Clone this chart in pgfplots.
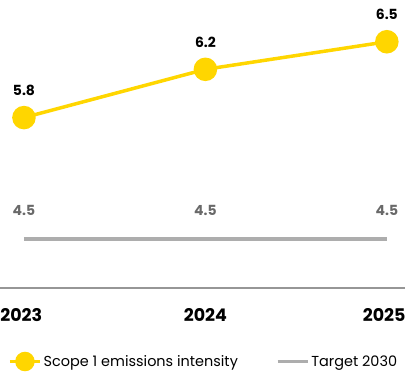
\documentclass[border=0pt]{standalone}
\usepackage{pgfplots}
\pgfplotsset{compat=1.18}
\usepackage{fontspec}
\setmainfont{Poppins}
\definecolor{shellyellow}{RGB}{255,214,0}
\definecolor{tgrey}{RGB}{173,173,173}
\definecolor{axgrey}{RGB}{150,150,150}
\definecolor{lblgrey}{RGB}{105,105,105}
\begin{document}
\begin{tikzpicture}
\begin{axis}[
  at={(0,0)}, anchor=south west,
  scale only axis, width=405bp, height=285.65bp,
  xmin=2022.868, xmax=2025.1, ymin=4, ymax=6.9,
  clip=false,
  axis x line*=bottom, axis y line=none,
  axis line style={draw=axgrey, line width=1.5bp, -},
  xtick={2022.985,2024,2024.985}, xticklabels={2023,2024,2025},
  major tick length=0pt,
  xticklabel style={font=\fontsize{17.5}{17.5}\selectfont\bfseries, yshift=-20bp, inner sep=0pt, anchor=north},
  ytick=\empty,
  /pgf/number format/assume math mode=true,
  legend style={at={(axis description cs:0,0)}, anchor=west, xshift=8bp, yshift=-73.5bp, draw=none, fill=none,
    font=\fontsize{14.5}{14.5}\selectfont, column sep=0pt, inner sep=0pt,
    /tikz/every even column/.append style={column sep=36bp}},
  legend columns=2,
  legend cell align=left,
]
\addplot[shellyellow, line width=3.5bp, mark=*, mark size=10bp,
  nodes near coords, point meta=explicit symbolic,
  every node near coord/.append style={font=\fontsize{14}{14}\selectfont\bfseries, text=black, anchor=south, inner sep=0pt, yshift=20bp},
  legend image code/.code={\draw[shellyellow, line width=3.5bp] (0bp,0bp) -- (30bp,0bp); \fill[shellyellow] (15bp,0bp) circle (8bp);}
  ] coordinates {(2023,5.73)[5.8] (2024,6.22)[6.2] (2025,6.5)[6.5]};
\addlegendentry{Scope 1 emissions intensity}
\addplot[tgrey, line width=3.5bp,
  nodes near coords, point meta=explicit symbolic,
  every node near coord/.append style={font=\fontsize{14}{14}\selectfont\bfseries, text=lblgrey, anchor=south, inner sep=0pt, yshift=21bp},
  legend image code/.code={\draw[tgrey, line width=3.5bp] (0bp,0bp) -- (30bp,0bp);}
  ] coordinates {(2023,4.5)[4.5] (2024,4.5)[4.5] (2025,4.5)[4.5]};
\addlegendentry{Target 2030}
\end{axis}
\pgfresetboundingbox
\path[use as bounding box] (0,-86bp) rectangle (405bp,288bp);
\end{tikzpicture}
\end{document}
